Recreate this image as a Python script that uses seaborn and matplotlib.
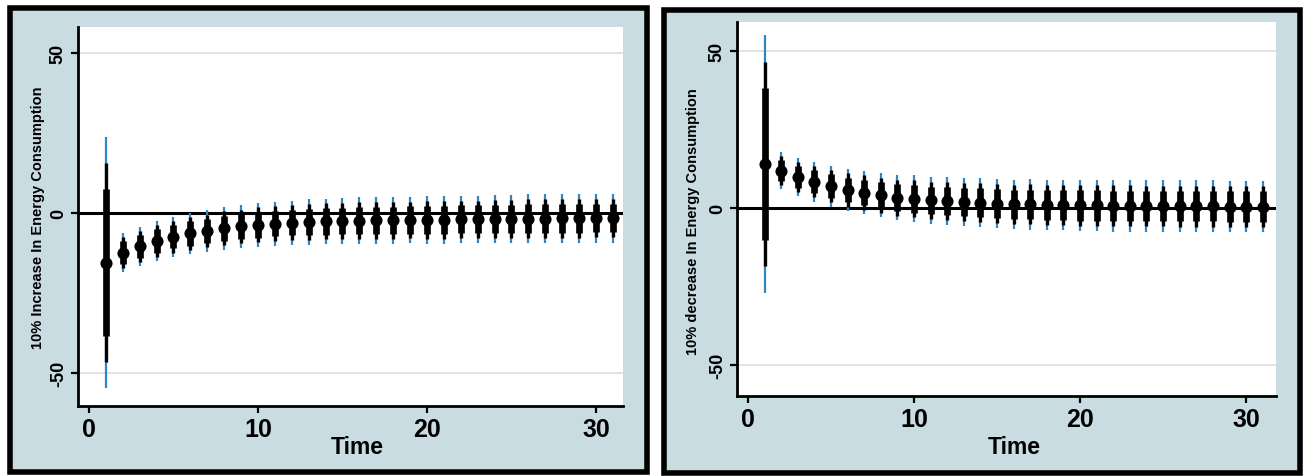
import numpy as np
import pandas as pd
import seaborn as sns
import matplotlib
matplotlib.use("Agg")
import matplotlib.pyplot as plt
from matplotlib.patches import Rectangle

# Impulse responses over 31 periods
time = list(range(1, 32))

inc_est = [-15.5, -12.4, -10.4, -8.7, -7.4, -6.4, -5.6, -4.8, -4.2, -3.7,
           -3.3, -3.0, -2.8, -2.6, -2.5, -2.4, -2.3, -2.3, -2.2, -2.2,
           -2.1, -2.0, -2.0, -1.9, -1.9, -1.8, -1.8, -1.7, -1.7, -1.6, -1.6]
inc_se = [20.0, 3.1, 3.1, 3.2, 3.2, 3.3, 3.3, 3.4, 3.4, 3.5,
          3.5, 3.5, 3.6, 3.6, 3.6, 3.7, 3.7, 3.7, 3.7, 3.8,
          3.8, 3.8, 3.8, 3.8, 3.8, 3.9, 3.9, 3.9, 3.9, 3.9, 3.9]

dec_est = [14.0, 11.9, 9.9, 8.3, 6.9, 5.7, 4.9, 4.0, 3.3, 2.9,
           2.4, 2.1, 1.8, 1.6, 1.4, 1.2, 1.1, 1.0, 0.9, 0.8,
           0.8, 0.7, 0.7, 0.6, 0.6, 0.5, 0.5, 0.5, 0.4, 0.4, 0.4]
dec_se = [21.0, 3.0, 3.1, 3.2, 3.3, 3.4, 3.5, 3.6, 3.7, 3.8,
          3.8, 3.9, 3.9, 4.0, 4.0, 4.0, 4.1, 4.1, 4.1, 4.2,
          4.2, 4.2, 4.2, 4.2, 4.2, 4.2, 4.2, 4.2, 4.2, 4.2, 4.2]

# Normal quantiles for the outer, middle and inner bands
z_levels = [1.96, 1.55, 1.15]

y_ticks = [-50, 0, 50]
x_ticks = [0, 10, 20, 30]

sns.set_theme(style="white")
plt.rcParams["font.family"] = ["Liberation Sans", "DejaVu Sans"]
plt.rcParams["font.weight"] = "bold"
for key in ("text.color", "axes.labelcolor", "xtick.color", "ytick.color"):
    plt.rcParams[key] = "black"

W, H = 1305, 477
fig = plt.figure(figsize=(W / 100, H / 100), dpi=100, facecolor="white")

BG = "#c8dce2"
BLUE = "#2f86c0"


def frame(x0, y0, x1, y1):
    fig.patches.append(Rectangle((x0 / W, 1 - y1 / H), (x1 - x0) / W, (y1 - y0) / H,
                                 transform=fig.transFigure, facecolor=BG,
                                 edgecolor="black", linewidth=4.0, zorder=-5))


frame(10, 9, 647, 473)
frame(664, 11, 1300, 474)


def panel(rect, est, se, ylabel, ylab_xy, time_xy, xlim, ylim):
    ax = fig.add_axes(rect)
    ax.set_zorder(2)
    ax.set_facecolor("white")
    df = pd.DataFrame({"time": time, "est": est, "se": se})
    styles = [(BLUE, 1.6), ("black", 2.4), ("black", 4.8)]
    for z, (col, lw) in zip(z_levels, styles):
        ax.vlines(df["time"], df["est"] - z * df["se"], df["est"] + z * df["se"],
                  color=col, linewidth=lw, zorder=3)
    sns.scatterplot(data=df, x="time", y="est", ax=ax, color="black", s=76,
                    edgecolor="black", linewidth=0, zorder=4, legend=False)
    for g in (-50, 50):
        ax.axhline(g, color="#dddddd", linewidth=1.2, zorder=1)
    ax.axhline(0, color="black", linewidth=2.2, zorder=2)
    ax.set_xlim(*xlim)
    ax.set_ylim(*ylim)
    ax.set_xticks(x_ticks)
    ax.set_yticks(y_ticks)
    ax.set_yticklabels([str(v) for v in y_ticks], rotation=90, va="center")
    ax.tick_params(axis="x", length=5, width=1.6, pad=3, labelsize=18, color="black")
    ax.tick_params(axis="y", length=5, width=1.6, pad=3, labelsize=13, color="black")
    ax.tick_params(bottom=True, left=True)
    for lbl in ax.get_xticklabels() + ax.get_yticklabels():
        lbl.set_fontweight("bold")
    for s in ("top", "right"):
        ax.spines[s].set_visible(False)
    for s in ("left", "bottom"):
        ax.spines[s].set_color("black")
        ax.spines[s].set_linewidth(2.0)
    ax.set_xlabel("")
    ax.set_ylabel("")
    ax.text(ylab_xy[0], ylab_xy[1], ylabel, transform=ax.transAxes, rotation=90,
            ha="center", va="center", fontsize=10.5, fontweight="bold")
    ax.text(time_xy[0], time_xy[1], "Time", transform=ax.transAxes,
            ha="center", va="center", fontsize=16.5, fontweight="bold")
    return ax


panel([78 / W, 1 - 407 / H, 545 / W, 379 / H], inc_est, inc_se,
      "10% Increase In Energy Consumption", (-0.073, 0.499), (0.512, -0.106),
      (-0.65, 31.6), (-60.3, 58.1))
panel([737 / W, 1 - 397 / H, 539 / W, 374 / H], dec_est, dec_se,
      "10% decrease In Energy Consumption", (-0.0816, 0.468), (0.514, -0.134),
      (-0.66, 31.8), (-59.9, 59.2))

fig.savefig("out.png", dpi=100, facecolor="white")
